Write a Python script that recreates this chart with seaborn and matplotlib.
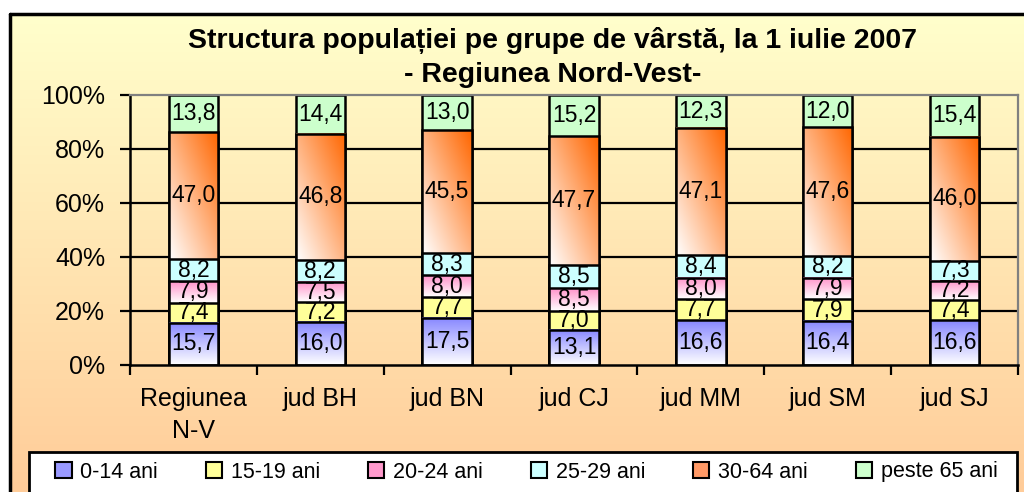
import numpy as np
import pandas as pd
import seaborn as sns
import matplotlib.pyplot as plt
from matplotlib.patches import Patch, Rectangle
from matplotlib.lines import Line2D

# data (percent of population per age group)
regions = ["Regiunea\nN-V", "jud BH", "jud BN", "jud CJ", "jud MM", "jud SM", "jud SJ"]
age_groups = ["0-14 ani", "15-19 ani", "20-24 ani", "25-29 ani", "30-64 ani", "peste 65 ani"]
v_0_14 = [15.7, 16.0, 17.5, 13.1, 16.6, 16.4, 16.6]
v_15_19 = [7.4, 7.2, 7.7, 7.0, 7.7, 7.9, 7.4]
v_20_24 = [7.9, 7.5, 8.0, 8.5, 8.0, 7.9, 7.2]
v_25_29 = [8.2, 8.2, 8.3, 8.5, 8.4, 8.2, 7.3]
v_30_64 = [47.0, 46.8, 45.5, 47.7, 47.1, 47.6, 46.0]
v_65 = [13.8, 14.4, 13.0, 15.2, 12.3, 12.0, 15.4]
title_1 = "Structura populației pe grupe de vârstă, la 1 iulie 2007"
title_2 = "- Regiunea Nord-Vest-"

sns.set_theme(style="white")
plt.rcParams['font.family'] = ['Liberation Sans', 'DejaVu Sans']
plt.rcParams['text.color'] = 'black'

layers = [v_0_14, v_15_19, v_20_24, v_25_29, v_30_64, v_65]
df = pd.DataFrame(dict(zip(age_groups, layers)), index=regions)
pct = df.div(df.sum(axis=1), axis=0) * 100   # 100% stacked
cum = pct.cumsum(axis=1)
bottoms = cum - pct

flat_colors = ["#9999FF", "#FFFF99", "#FF99CC", "#CCFFFF", "#FF9966", "#CCFFCC"]

fig = plt.figure(figsize=(10.24, 4.92), dpi=100)

# background panel with yellow -> peach gradient
W, H = 1024, 492
bg = fig.add_axes([10 / W, 0, 1 - 10 / W, 1 - 14 / H], zorder=-5)
g = np.linspace(0, 1, 256)[:, None]
top_c = np.array([255, 255, 204]) / 255
bot_c = np.array([255, 204, 153]) / 255
bg_img = (1 - g)[..., None] * top_c + g[..., None] * bot_c
bg.imshow(np.repeat(bg_img, 2, axis=1), aspect='auto', extent=(0, 1, 0, 1))
bg.axis('off')
fig.add_artist(Line2D([10 / W, 10 / W], [0, 1 - 14 / H], color='black', lw=2.5))
fig.add_artist(Line2D([10 / W, 1], [1 - 14 / H, 1 - 14 / H], color='black', lw=2.5))

ax = fig.add_axes([130 / W, 1 - 365 / H, 888 / W, 270 / H])
ax.set_facecolor('none')


def grad_img(kind, c):
    n = 64
    u = np.linspace(0, 1, n)[None, :]
    v = np.linspace(0, 1, n)[:, None]
    c = np.array(c)
    if kind == 'vert':
        t = np.repeat(v, n, axis=1) * 0.95
    else:
        t = (u + v) / 2
    return (1 - t)[..., None] * np.ones(3) + t[..., None] * c


grad = {0: ('vert', (128 / 255, 128 / 255, 1.0)),
        2: ('vert', (1.0, 0.55, 0.78)),
        4: ('diag', (1.0, 0.4, 0.0))}

bar_w = 0.39
# draw cumulative totals from the top down so shorter bars cover longer ones
for k in reversed(range(6)):
    n0 = len(ax.patches)
    z = 2 + (5 - k) * 0.1
    sns.barplot(x=regions, y=cum.iloc[:, k].values, color=flat_colors[k], saturation=1,
                width=bar_w, edgecolor='black', linewidth=1.8, zorder=z, ax=ax)
    if k in grad:
        kind, c = grad[k]
        img = grad_img(kind, c)
        for i, p in enumerate(ax.patches[n0:]):
            p.set_facecolor('none')
            b = bottoms.iloc[i, k]
            ax.imshow(img, origin='lower', aspect='auto', interpolation='bilinear',
                      extent=(i - bar_w / 2, i + bar_w / 2, b, b + pct.iloc[i, k]), zorder=z - 0.01)

# value labels
for i in range(len(regions)):
    for k in range(6):
        ax.text(i, bottoms.iloc[i, k] + pct.iloc[i, k] / 2,
                f"{df.iloc[i, k]:.1f}".replace('.', ','),
                ha='center', va='center', fontsize=16.5, color='black', zorder=5)

ax.set_xlim(-0.5, len(regions) - 0.5)
ax.set_ylim(0, 100)
for yv in [20, 40, 60, 80]:
    ax.axhline(yv, color='black', lw=1.6, zorder=1)

ax.set_yticks(range(0, 101, 20))
ax.set_yticklabels([f"{t}%" for t in range(0, 101, 20)])
ax.set_xticks(range(len(regions)))
ax.set_xticklabels(regions, linespacing=1.4)
ax.set_xticks(np.arange(-0.5, len(regions)), minor=True)
ax.tick_params(axis='x', which='major', length=0, pad=16, labelsize=18, labelcolor='black')
ax.tick_params(axis='x', which='minor', length=7, width=1.6, direction='out', color='black', bottom=True)
ax.tick_params(axis='y', length=7, width=1.6, direction='out', color='black', left=True,
               pad=11, labelsize=18, labelcolor='black')
ax.set_xlabel('')
ax.set_ylabel('')
for s in ['left', 'bottom']:
    ax.spines[s].set_color('black')
    ax.spines[s].set_linewidth(1.8)
for s in ['top', 'right']:
    ax.spines[s].set_color('#808080')
    ax.spines[s].set_linewidth(1.6)

fig.text(553 / W, 1 - 40 / H, title_1, ha='center', va='center', fontsize=20.5, weight='bold')
fig.text(553 / W, 1 - 75 / H, title_2, ha='center', va='center', fontsize=20.5, weight='bold')

# legend box
fig.add_artist(Rectangle((29 / W, -0.01), (1017 - 29) / W, (492 - 452) / H + 0.01,
                         transform=fig.transFigure, facecolor='white', edgecolor='black', lw=2))
handles = [Patch(facecolor=c, edgecolor='black', lw=1.5) for c in flat_colors]
fig.legend(handles, age_groups, ncol=6, mode='expand', frameon=False,
           bbox_to_anchor=(36 / W, 0.0, (1017 - 36) / W, (492 - 452) / H), loc='center',
           handlelength=0.75, handleheight=0.75, handletextpad=0.4,
           prop={'size': 15.5})

fig.savefig("out.png", dpi=100)
